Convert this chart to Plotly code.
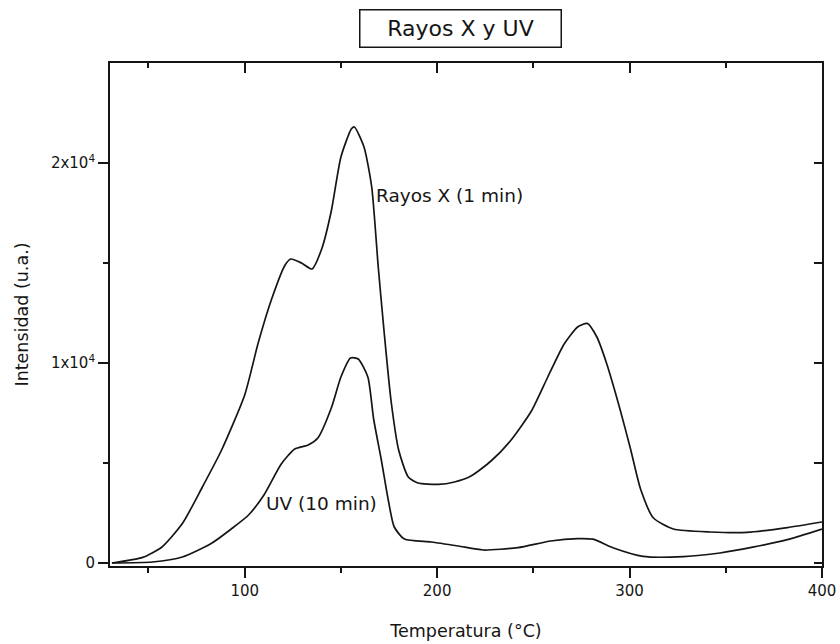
import plotly.graph_objects as go

# Thermoluminescence glow curves: temperature (°C) vs intensity (arb. units)
temp_rx = [31, 47, 57, 67.6, 78, 88, 100, 107, 114, 121, 124, 129.5, 135, 140,
           145, 150, 155.4, 157, 162, 166, 169.4, 172.5, 176, 180, 185, 190,
           200.5, 209, 217.6, 228, 238, 249, 257.5, 266, 273, 278, 283, 288,
           295, 300.5, 305.7, 312.4, 322.8, 342, 361, 382, 400]
int_rx = [0, 280, 800, 1970, 3800, 5650, 8400, 11000, 13200, 14900, 15200, 15000,
          14700, 15700, 17600, 20300, 21700, 21800, 20800, 18800, 14800, 11500,
          8150, 5650, 4300, 4000, 3930, 4050, 4350, 5100, 6100, 7600, 9300, 10950,
          11800, 11980, 11300, 10000, 7700, 5700, 3700, 2250, 1700, 1550, 1530,
          1770, 2050]

temp_uv = [31, 52, 67.6, 83, 93, 102, 110, 119, 126, 133, 138, 145, 150, 155, 159,
           164, 167, 171, 174.6, 177.7, 183, 197, 211, 224, 242, 259, 273, 281,
           291.7, 307, 328, 347, 364, 382, 400]
int_uv = [0, 50, 300, 1000, 1700, 2400, 3400, 4950, 5700, 5900, 6250, 7750, 9300,
          10250, 10200, 9300, 7200, 5150, 3150, 1800, 1200, 1050, 850, 650, 770,
          1100, 1220, 1190, 750, 330, 320, 500, 790, 1170, 1700]

y_tickvals = [0, 10000, 20000]
y_ticktext = ["0", "1x10<sup>4</sup>", "2x10<sup>4</sup>"]
y_minorvals = [5000, 15000]

x_range = [30, 400]
y_range = [-150, 25000]

FONT = "DejaVu Sans"
INK = "#151515"

fig = go.Figure()

line_style = dict(color=INK, width=1.7, shape="spline", smoothing=0.6)
fig.add_trace(go.Scatter(x=temp_rx, y=int_rx, mode="lines", line=line_style,
                         showlegend=False, hoverinfo="skip"))
fig.add_trace(go.Scatter(x=temp_uv, y=int_uv, mode="lines", line=line_style,
                         showlegend=False, hoverinfo="skip"))
# empty trace so the mirrored top/right frame axes get drawn
fig.add_trace(go.Scatter(x=[], y=[], xaxis="x2", yaxis="y2",
                         showlegend=False, hoverinfo="skip"))

axis_common = dict(showgrid=False, zeroline=False, showline=True,
                   linecolor=INK, linewidth=1.8, tickcolor=INK, tickwidth=1.5)

fig.update_layout(
    template="none",
    width=840, height=644,
    margin=dict(l=110, r=18, t=63, b=78, autoexpand=False),
    paper_bgcolor="white", plot_bgcolor="white",
    font=dict(family=FONT, color=INK),
    xaxis=dict(
        range=x_range, tickmode="linear", tick0=0, dtick=100,
        ticks="outside", ticklen=10,
        minor=dict(dtick=50, tick0=0, ticks="outside", ticklen=5,
                   tickcolor=INK, tickwidth=1.5, showgrid=False),
        tickfont=dict(family=FONT, size=15, color=INK),
        title=dict(text="Temperatura (°C)", standoff=26,
                   font=dict(family=FONT, size=17.5, color=INK)),
        **axis_common),
    yaxis=dict(
        range=y_range, tickmode="array", tickvals=y_tickvals, ticktext=y_ticktext,
        ticks="outside", ticklen=10,
        minor=dict(tickmode="array", tickvals=y_minorvals, ticks="outside",
                   ticklen=5, tickcolor=INK, tickwidth=1.5, showgrid=False),
        tickfont=dict(family=FONT, size=15, color=INK),
        title=dict(text="Intensidad (u.a.)", standoff=18,
                   font=dict(family=FONT, size=17.5, color=INK)),
        **axis_common),
    xaxis2=dict(
        overlaying="x", anchor="y", side="top", range=x_range,
        tickmode="linear", tick0=0, dtick=100, ticks="inside", ticklen=10,
        showticklabels=False,
        minor=dict(dtick=50, tick0=0, ticks="inside", ticklen=5,
                   tickcolor=INK, tickwidth=1.5, showgrid=False),
        **axis_common),
    yaxis2=dict(
        overlaying="y", anchor="x", side="right", range=y_range,
        tickmode="array", tickvals=y_tickvals, ticks="inside", ticklen=8,
        showticklabels=False,
        minor=dict(tickmode="array", tickvals=y_minorvals, ticks="inside",
                   ticklen=8, tickcolor=INK, tickwidth=1.5, showgrid=False),
        **axis_common),
    annotations=[
        dict(text="Rayos X y UV", xref="paper", yref="paper", x=0.4916, y=1.0676,
             xanchor="center", yanchor="middle", showarrow=False,
             font=dict(family=FONT, size=22, color=INK),
             bordercolor=INK, borderwidth=1.5, borderpad=2,
             width=196, height=32, bgcolor="white"),
        dict(text="Rayos X (1 min)", x=167, y=18400, xanchor="left",
             yanchor="middle", showarrow=False,
             font=dict(family=FONT, size=18.5, color=INK)),
        dict(text="UV (10 min)", x=110.2, y=3000, xanchor="left",
             yanchor="middle", showarrow=False,
             font=dict(family=FONT, size=18.5, color=INK)),
    ],
)

fig.write_html("out.html")
